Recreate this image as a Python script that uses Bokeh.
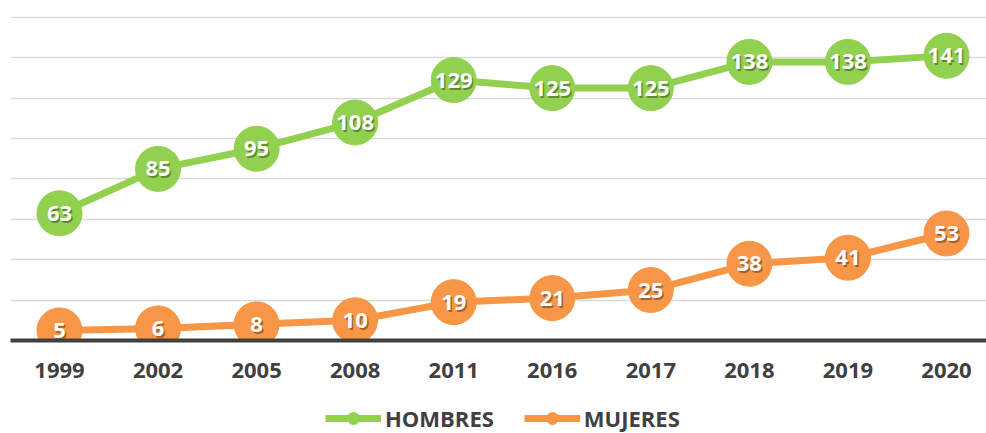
from bokeh.plotting import figure
from bokeh.models import ColumnDataSource, Range1d, FixedTicker, Legend, LegendItem
from bokeh.layouts import column
from bokeh.core.properties import value
from bokeh.embed import file_html
from bokeh.resources import INLINE

years = ["1999", "2002", "2005", "2008", "2011", "2016", "2017", "2018", "2019", "2020"]
hombres = [63, 85, 95, 108, 129, 125, 125, 138, 138, 141]
mujeres = [5, 6, 8, 10, 19, 21, 25, 38, 41, 53]
grid_ticks = [0, 20, 40, 60, 80, 100, 120, 140, 160]
series_names = ["HOMBRES", "MUJERES"]

GREEN = "#92D050"
ORANGE = "#F79646"
FONT = "Open Sans"

idx = list(range(len(years)))
src_h = ColumnDataSource(dict(x=idx, y=hombres, t=[str(v) for v in hombres]))
src_m = ColumnDataSource(dict(x=idx, y=mujeres, t=[str(v) for v in mujeres]))

p = figure(width=986, height=395, output_backend="svg", toolbar_location=None,
           x_range=Range1d(-0.497, 9.406), y_range=Range1d(0, 168.4),
           min_border_left=10, min_border_right=0, min_border_top=0, min_border_bottom=55)
p.outline_line_color = None
p.background_fill_color = "white"
p.border_fill_color = "white"

p.yaxis.visible = False
p.ygrid.ticker = FixedTicker(ticks=grid_ticks)
p.ygrid.grid_line_color = "#D9D9D9"
p.ygrid.grid_line_width = 1.5
p.xgrid.visible = False

p.xaxis.ticker = FixedTicker(ticks=idx)
p.xaxis.major_label_overrides = {i: y for i, y in enumerate(years)}
p.xaxis.major_tick_line_color = None
p.xaxis.minor_tick_line_color = None
p.xaxis.axis_line_color = "#404040"
p.xaxis.axis_line_width = 4
p.xaxis.major_label_standoff = 16
p.xaxis.major_label_text_font = FONT
p.xaxis.major_label_text_font_style = "bold"
p.xaxis.major_label_text_font_size = "22px"
p.xaxis.major_label_text_color = "#404040"

for src, col in [(src_h, GREEN), (src_m, ORANGE)]:
    p.line("x", "y", source=src, line_color=col, line_width=7)
    p.scatter("x", "y", source=src, size=45, fill_color=col, line_color=col)
    p.text("x", "y", text="t", source=src, text_align="center", text_baseline="middle",
           text_font=value(FONT), text_font_style="bold", text_font_size="22px",
           text_color="#000000", text_alpha=0.35, x_offset=1.5, y_offset=2)
    p.text("x", "y", text="t", source=src, text_align="center", text_baseline="middle",
           text_font=value(FONT), text_font_style="bold", text_font_size="22px",
           text_color="white")

# legend strip
lg = figure(width=986, height=38, output_backend="svg", toolbar_location=None,
            x_range=Range1d(0, 1), y_range=Range1d(0, 1),
            min_border_left=0, min_border_right=0, min_border_top=0, min_border_bottom=0)
lg.axis.visible = False
lg.grid.visible = False
lg.outline_line_color = None
items = []
for col, name in zip([GREEN, ORANGE], series_names):
    lr = lg.line([-5, -4], [-5, -5], line_color=col, line_width=7)
    sr = lg.scatter([-5], [-5], size=17, fill_color=col, line_color=col)
    items.append(LegendItem(label=name, renderers=[lr, sr]))
legend = Legend(items=items, orientation="horizontal", location=(315, 0),
                padding=0, margin=0, spacing=30, glyph_width=56, glyph_height=30,
                label_standoff=4, label_text_font=FONT, label_text_font_style="bold",
                label_text_font_size="22px", label_text_color="#404040",
                background_fill_alpha=0, border_line_color=None)
lg.add_layout(legend, "center")

open("out.html", "w").write(file_html(column(p, lg, spacing=0), INLINE))
